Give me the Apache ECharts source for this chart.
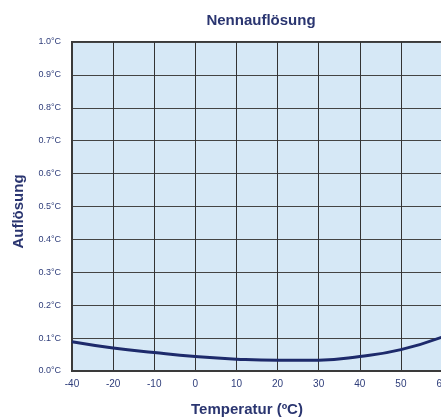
<!DOCTYPE html>
<html>
<head>
<meta charset="utf-8">
<script src="https://cdn.jsdelivr.net/npm/echarts@6/dist/echarts.min.js"></script>
<style>html,body{margin:0;padding:0;background:#fff}#c{width:441px;height:418px}</style>
</head>
<body>
<div id="c"></div>
<script>
var xLabels = ['-40', '-20', '-10', '0', '10', '20', '30', '40', '50', '60'];
var resolution = [0.089, 0.070, 0.056, 0.044, 0.036, 0.0325, 0.033, 0.044, 0.065, 0.103];
var yTicks = ['0.0°C', '0.1°C', '0.2°C', '0.3°C', '0.4°C', '0.5°C', '0.6°C', '0.7°C', '0.8°C', '0.9°C', '1.0°C'];

var seriesData = resolution.map(function (v, i) { return [i, v]; });
var chart = echarts.init(document.getElementById('c'), null, { renderer: 'canvas' });
var font = 'Liberation Sans, Arial, sans-serif';
chart.setOption({
  animation: false,
  title: {
    text: 'Nennauflösung',
    left: 256, top: 8, textAlign: 'center',
    textStyle: { fontFamily: font, fontSize: 15, fontWeight: 'bold', color: '#2a3570' }
  },
  grid: {
    left: 72, top: 42, right: -1, bottom: 47,
    outerBoundsMode: 'none', containLabel: false,
    show: true, backgroundColor: '#d6e8f6', borderColor: '#3a3a3a', borderWidth: 2
  },
  xAxis: {
    type: 'value', min: 0, max: 9, interval: 1,
    name: 'Temperatur (ºC)', nameLocation: 'middle', nameGap: 31,
    nameTextStyle: { fontFamily: font, fontSize: 15, fontWeight: 'bold', color: '#2a3570', padding: [0, 0, 0, -20] },
    axisLine: { show: true, lineStyle: { color: '#3a3a3a', width: 2 } },
    axisTick: { show: false },
    axisLabel: {
      fontFamily: font, fontSize: 10, color: '#2e3d7a', margin: 8,
      formatter: function (v) { return xLabels[Math.round(v)]; }
    },
    splitLine: { show: true, lineStyle: { color: '#333', width: 1 } }
  },
  yAxis: {
    type: 'value', min: 0, max: 1, interval: 0.1,
    name: 'Auflösung', nameLocation: 'middle', nameGap: 46, nameRotate: 90,
    nameTextStyle: { fontFamily: font, fontSize: 15, fontWeight: 'bold', color: '#2a3570', padding: [0, 10, 0, 0] },
    axisLine: { show: true, lineStyle: { color: '#3a3a3a', width: 2 } },
    axisTick: { show: false },
    axisLabel: {
      fontFamily: font, fontSize: 9, color: '#2e3d7a', margin: 11,
      formatter: function (v) { return yTicks[Math.round(v * 10)]; }
    },
    splitLine: { show: true, lineStyle: { color: '#444', width: 1 } }
  },
  series: [{
    type: 'line', data: seriesData, smooth: 0.5, symbol: 'none',
    lineStyle: { color: '#1d2a6b', width: 3 }
  }]
});
</script>
</body>
</html>
